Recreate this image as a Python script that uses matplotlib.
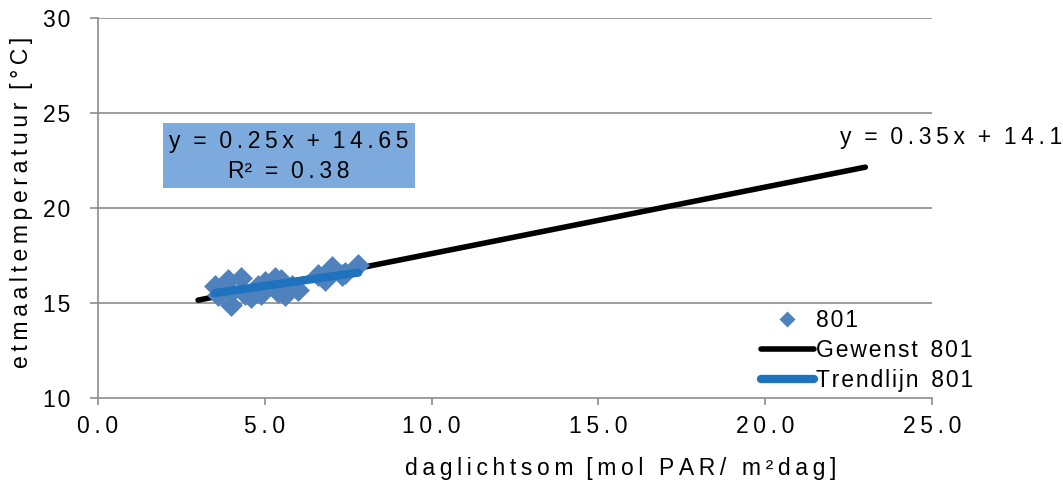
import matplotlib
matplotlib.use("Agg")
import matplotlib.pyplot as plt
from matplotlib.patches import Rectangle
from matplotlib.lines import Line2D
import numpy as np

plt.rcParams['font.family'] = ['Liberation Sans', 'DejaVu Sans']

# measured daily light sum vs. daily mean temperature (series 801)
light_801 = [3.5, 3.6, 3.7, 3.9, 4.0, 4.0, 4.3, 4.4, 4.6, 4.8, 4.9, 5.0, 5.3, 5.4,
             5.5, 5.6, 5.8, 6.0, 6.6, 6.8, 7.0, 7.3, 7.4, 7.8]
temp_801 = [15.9, 15.4, 15.6, 16.2, 14.9, 15.6, 16.3, 15.5, 15.3, 15.9, 15.5, 16.1, 16.3, 15.6,
            16.2, 15.4, 15.9, 15.7, 16.5, 16.2, 16.9, 16.5, 16.6, 17.0]

# target line (Gewenst) and fitted trend line
target_slope, target_intercept = 0.35, 14.1
target_x = [3.0, 23.0]
trend_slope, trend_intercept = 0.25, 14.65
trend_r2 = 0.38
trend_x = [3.5, 7.8]

x_ticks = [0, 5, 10, 15, 20, 25]
y_ticks = [10, 15, 20, 25, 30]

FS = 16.5
THIN = '\u2009'
HAIR = '\u200a'


def track(s, sep=THIN):
    """Widen letter spacing by putting a narrow space between characters."""
    return sep.join(s)


fig = plt.figure(figsize=(10.63, 4.88), dpi=100)
ax = fig.add_axes([0.0922, 0.1844, 0.7846, 0.7787])

ax.set_xlim(0, 25)
ax.set_ylim(10, 30)
for yv in y_ticks[1:]:
    ax.axhline(yv, color='#8c8c8c', lw=1.2, zorder=0)

tx = np.array(target_x)
ax.plot(tx, target_slope * tx + target_intercept, color='black', lw=4,
        solid_capstyle='round', zorder=2)
ax.scatter(light_801, temp_801, marker='D', s=135, color='#4F81BD', lw=0, zorder=3)
rx = np.array(trend_x)
ax.plot(rx, trend_slope * rx + trend_intercept, color='#1F72BE', lw=6,
        solid_capstyle='round', zorder=4)

ax.set_xticks(x_ticks)
ax.set_xticklabels([track(f"{v:.1f}") for v in x_ticks])
ax.set_yticks(y_ticks)
ax.set_yticklabels([track(str(v), HAIR) for v in y_ticks])
ax.tick_params(axis='both', labelsize=FS, direction='out', length=5, width=1.2,
               color='#8c8c8c', pad=7)
ax.tick_params(axis='y', length=6, pad=14)
for side in ['top', 'right']:
    ax.spines[side].set_visible(False)
for side in ['left', 'bottom']:
    ax.spines[side].set_color('#8c8c8c')
    ax.spines[side].set_linewidth(1.2)

ax.set_xlabel(track('daglichtsom') + '  ' + track('[mol PAR/ m\u00b2dag]'),
              fontsize=FS)
ax.xaxis.set_label_coords(621 / 1063, 1 - 468 / 488, transform=fig.transFigure)
ax.xaxis.label.set_va('center')
ax.set_ylabel(track('etmaaltemperatuur') + '  ' + track('[\u00b0C]'), fontsize=FS)
ax.yaxis.set_label_coords(22 / 1063, 1 - 202 / 488, transform=fig.transFigure)
ax.yaxis.label.set_ha('center')
ax.yaxis.label.set_va('center')

# trend equation box
fig.add_artist(Rectangle((163 / 1063, 1 - 188 / 488), 252 / 1063, 65 / 488,
                         transform=fig.transFigure, fc='#7DAADC', ec='none', zorder=5))
fig.text(289 / 1063, 1 - 142 / 488,
         track('y') + '  =  ' + track(f"{trend_slope}x") + '  +  ' + track(f"{trend_intercept}"),
         fontsize=FS, ha='center', va='center', zorder=6)
fig.text(289 / 1063, 1 - 172 / 488,
         'R\u00b2  =  ' + track(f"{trend_r2}"),
         fontsize=FS, ha='center', va='center', zorder=6)
# target equation label
fig.text(840 / 1063, 1 - 137 / 488,
         track('y') + '  =  ' + track(f"{target_slope}x") + '  +  ' + track(f"{target_intercept}"),
         fontsize=FS, ha='left', va='center')

handles = [
    Line2D([], [], ls='none', marker='D', ms=8, color='#4F81BD', mec='none'),
    Line2D([], [], color='black', lw=4, solid_capstyle='round'),
    Line2D([], [], color='#1F72BE', lw=6, solid_capstyle='round'),
]
labels = [track('801', HAIR), track('Gewenst', HAIR) + '  ' + track('801', HAIR),
          track('Trendlijn', HAIR) + '  ' + track('801', HAIR)]
fig.legend(handles, labels, loc='center left', bbox_to_anchor=(0.705, 0.282),
           frameon=False, fontsize=FS, handlelength=2.3, handletextpad=0.1,
           labelspacing=0.32, borderpad=0)

fig.savefig('out.png', dpi=100)
